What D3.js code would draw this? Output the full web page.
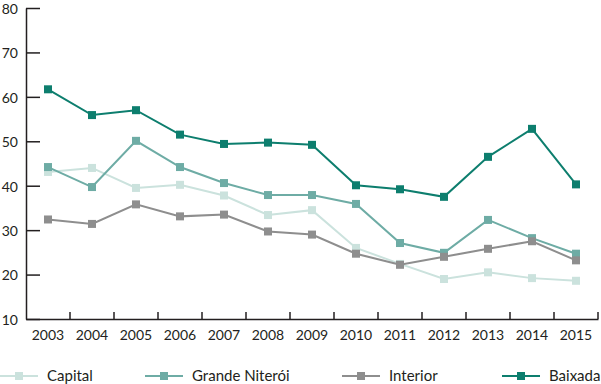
<!DOCTYPE html>
<html>
<head>
<meta charset="utf-8">
<script src="https://cdn.jsdelivr.net/npm/d3@7"></script>
<style>
  body { margin: 0; background: #fff; }
  svg text { font-family: Lato, "Noto Sans", sans-serif; fill: #231f20; }
</style>
</head>
<body>
<svg id="chart" width="601" height="384"></svg>
<script>
"use strict";

// data
const years = ["2003","2004","2005","2006","2007","2008","2009","2010","2011","2012","2013","2014","2015"];
const capital = [43.1, 44.0, 39.5, 40.2, 37.8, 33.4, 34.5, 26.0, 22.4, 19.0, 20.5, 19.2, 18.6];
const grandeNiteroi = [44.2, 39.7, 50.1, 44.2, 40.6, 37.9, 37.9, 35.9, 27.1, 24.9, 32.3, 28.2, 24.7];
const interior = [32.4, 31.4, 35.8, 33.1, 33.5, 29.7, 29.0, 24.7, 22.2, 24.0, 25.8, 27.5, 23.2];
const baixada = [61.7, 55.9, 57.0, 51.5, 49.4, 49.7, 49.2, 40.1, 39.2, 37.5, 46.5, 52.8, 40.3];
const yTicks = [10, 20, 30, 40, 50, 60, 70, 80];

const series = [
  { name: "Capital", values: capital, color: "#cbe2dd" },
  { name: "Grande Niterói", values: grandeNiteroi, color: "#6eaca5" },
  { name: "Interior", values: interior, color: "#8e8e8e" },
  { name: "Baixada", values: baixada, color: "#0d7e6e" }
];

let svg = d3.select("#chart");
let margin = { left: 26, right: 3, top: 8, bottom: 65 };
let width = 601, height = 384;

let x = d3.scaleBand().domain(years).range([margin.left, width - margin.right]);
let y = d3.scaleLinear().domain([10, 80]).range([height - margin.bottom, margin.top]);

// y axis, ticks point inward
let yAxis = d3.axisRight(y).tickValues(yTicks).tickSize(14).tickSizeOuter(0).tickFormat("");
let yg = svg.append("g").attr("transform", `translate(${margin.left},0)`).call(yAxis);
yg.selectAll("path, line").attr("stroke", "#231f20").attr("stroke-width", 1.5);

svg.append("g").selectAll("text").data(yTicks).enter().append("text")
  .attr("x", 18).attr("y", d => y(d) + 1).attr("dy", "0.35em")
  .attr("text-anchor", "end").style("font-size", "14px").text(d => d);

// x axis, ticks at band boundaries pointing up
let xAxis = d3.axisTop(x).tickSize(0).tickFormat("");
let xg = svg.append("g").attr("transform", `translate(0,${y(10)})`).call(xAxis);
xg.select("path").attr("stroke", "#231f20").attr("stroke-width", 1.5);
xg.selectAll(".tick").remove();
xg.selectAll(".btick").data(years).enter().append("line")
  .attr("x1", d => x(d) + x.bandwidth()).attr("x2", d => x(d) + x.bandwidth())
  .attr("y1", 0).attr("y2", -7)
  .attr("stroke", "#231f20").attr("stroke-width", 1.5);

svg.append("g").selectAll("text").data(years).enter().append("text")
  .attr("x", d => x(d) + x.bandwidth() / 2).attr("y", y(10) + 16).attr("dy", "0.35em")
  .attr("text-anchor", "middle").style("font-size", "14px").text(d => d);

// lines and markers
let line = d3.line().x((d, i) => x(years[i]) + x.bandwidth() / 2).y(d => y(d));
let ms = 8;

series.forEach(s => {
  let g = svg.append("g");
  g.append("path").datum(s.values).attr("d", line)
    .attr("fill", "none").attr("stroke", s.color).attr("stroke-width", 2);
  g.selectAll("rect").data(s.values).enter().append("rect")
    .attr("x", (d, i) => x(years[i]) + x.bandwidth() / 2 - ms / 2)
    .attr("y", d => y(d) - ms / 2)
    .attr("width", ms).attr("height", ms)
    .attr("fill", s.color);
});

// legend
let legendX = [0, 145, 342, 502];
let legendY = 376;
let lg = svg.append("g");
series.forEach((s, i) => {
  let lx = legendX[i];
  lg.append("line").attr("x1", lx).attr("x2", lx + 38)
    .attr("y1", legendY).attr("y2", legendY)
    .attr("stroke", s.color).attr("stroke-width", 2);
  lg.append("rect").attr("x", lx + 19 - ms / 2).attr("y", legendY - ms / 2)
    .attr("width", ms).attr("height", ms).attr("fill", s.color);
  lg.append("text").attr("x", lx + 47).attr("y", legendY).attr("dy", "0.35em")
    .style("font-size", "15px").text(s.name);
});
</script>
</body>
</html>
